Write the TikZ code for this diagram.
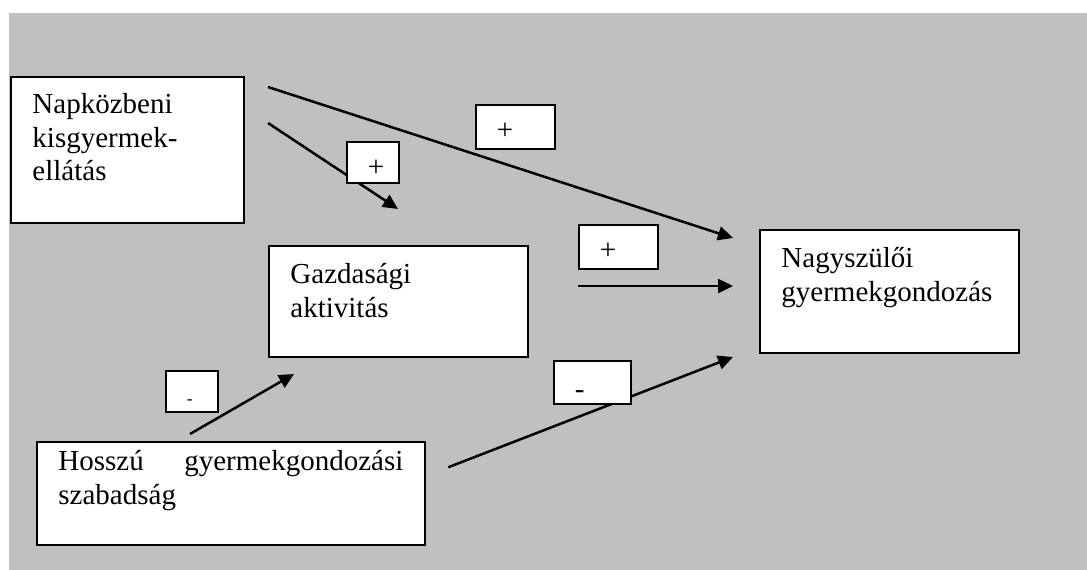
\documentclass[tikz,border=0pt]{standalone}
\usepackage{fontspec}
\setmainfont{Liberation Serif}
\usepackage{xcolor}
\usetikzlibrary{arrows.meta}

\definecolor{bggray}{RGB}{192,192,192}

\begin{document}
\begin{tikzpicture}[x=1pt, y=1pt,
        font=\fontsize{11.6pt}{13.35pt}\selectfont,
        box/.style={draw, fill=white, line width=0.75pt, anchor=north west,
            inner xsep=8.6pt, inner ysep=0pt, align=left},
        sign/.style={draw, fill=white, line width=0.75pt, anchor=north west,
            inner xsep=8.4pt, inner ysep=0pt, align=left, text height=14pt},
        effect/.style={draw, line width=1pt, -{Triangle[length=6pt, width=5.6pt]}}
        ]

        %% Background
        \useasboundingbox (0,0) rectangle (434.8,-228);
        \fill[bggray] (3.6,-5.2) rectangle (434.8,-228);

        %% Factors
        \node[box, text width=76pt, text height=14.8pt, text depth=43.6pt]
            (napkozbeni) at (4,-30.4) {Napközbeni\\kisgyermek-\\ellátás};
        \node[box, text width=86.4pt, text height=15.2pt, text depth=29.2pt]
            (gazdasagi) at (107.2,-98) {Gazdasági\\aktivitás};
        \node[box, text width=86.4pt, text height=15.2pt, text depth=34pt]
            (nagyszuloi) at (303.6,-91.6) {Nagyszülői\\gyermekgondozás};
        \node[box, text width=138pt, inner xsep=8.6pt, text height=11.6pt, text depth=29.6pt]
            (hosszu) at (14.4,-176.4) {Hosszú\hfill gyermekgondozási\\szabadság};

        %% Arrow ends
        \coordinate (napA) at (107.2,-34.8);
        \coordinate (napB) at (107.2,-49.2);
        \coordinate (gazOut) at (231.2,-114.4);
        \coordinate (hosA) at (76,-173.6);
        \coordinate (hosB) at (179.3,-186.9);
        \coordinate (toNagyA) at (293.2,-95.2);
        \coordinate (toNagyB) at (293.2,-114.4);
        \coordinate (toNagyC) at (293.2,-142.8);
        \coordinate (toGazA) at (159.2,-83.6);
        \coordinate (toGazB) at (117.6,-149.6);

        %% Effects
        \draw[effect] (napA) -- (toNagyA);
        \draw[effect] (napB) -- (toGazA);
        \draw[effect] (gazOut) -- (toNagyB);
        \draw[effect] (hosB) -- (toNagyC);
        \draw[effect] (hosA) -- (toGazB);

        %% Signs
        \node[sign, text width=14.8pt, text depth=3.6pt] (plusA) at (190,-41.6) {+};
        \node[sign, text width=4pt, text depth=2.4pt] (plusB) at (138.4,-56.4) {+};
        \node[sign, text width=14.8pt, text depth=3.6pt] (plusC) at (231.2,-89.6) {+};
        \node[sign, text width=14pt, text height=15.2pt, text depth=2pt] (minusA) at (221.2,-144) {-};
        \node[sign, text width=4pt, text height=13.6pt, text depth=2.8pt] (minusB) at (66,-148)
            {\fontsize{7pt}{8pt}\selectfont -};

\end{tikzpicture}
\end{document}
